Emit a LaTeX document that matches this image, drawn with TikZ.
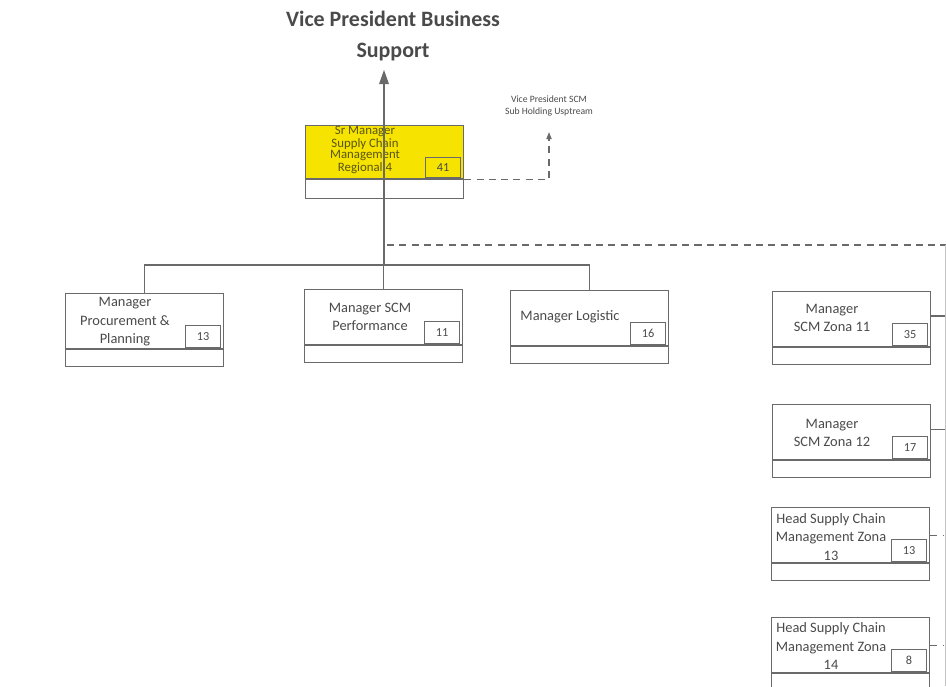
\documentclass[tikz,border=0pt]{standalone}
\usepackage{fontspec}
\setmainfont{Carlito}
\usetikzlibrary{positioning,arrows.meta}
\definecolor{orgline}{HTML}{6A6A6A}
\definecolor{orgtext}{HTML}{4A4A4A}
\definecolor{orgyellow}{HTML}{F6E300}
\definecolor{orgolive}{HTML}{5A5612}

\begin{document}
\begin{tikzpicture}[x=0.02cm,y=-0.02cm,
  posbox/.style  ={draw=orgline, line width=0.7pt, minimum width=3.16cm, minimum height=1.1cm, inner sep=0pt, anchor=north west},
  stripbox/.style={draw=orgline, line width=0.7pt, minimum width=3.16cm, minimum height=0.34cm, inner sep=0pt, anchor=north},
  numbox/.style  ={draw=orgline, line width=0.7pt, minimum width=0.7cm, minimum height=0.44cm, inner sep=0pt, anchor=south east, font=\fontsize{7}{8}\selectfont, text=orgtext},
  postext/.style ={align=center, font=\fontsize{8.2}{10.5}\selectfont, text=orgtext, inner sep=0pt},
  link/.style    ={draw=orgline, line width=0.7pt},
  dashlink/.style={link, dash pattern=on 4pt off 3pt},
]
\useasboundingbox (0,0) rectangle (946,686);

% head of the chart
\node[font=\fontsize{12.5}{18}\selectfont\bfseries, text=orgtext, align=center] (vpbs) at (393,36) {Vice President Business\\Support};
\node[font=\fontsize{5.5}{6.5}\selectfont, text=orgtext, align=center] (vpscm) at (549,106) {Vice President SCM\\Sub Holding Usptream};

\node[posbox, fill=orgyellow, minimum height=1.06cm] (srm) at (305,125) {};
\node[stripbox, minimum height=0.38cm] (srm-s) at (srm.south) {};
\node[numbox, minimum height=0.4cm] (srm-n) at ([shift={(-3,-1)}]srm.south east) {41};
\node[postext, text=orgolive, font=\fontsize{7.3}{6.3}\selectfont] (srm-t) at (365,150) {Sr Manager\\Supply Chain\\Management\\Regional 4};

% positions below
\foreach \n/\x/\y/\tx/\ty/\txt/\num in {%
  proc/65/293/125/322/{Manager\\Procurement \&\\Planning}/13,
  perf/304/289/370/317/{Manager SCM\\Performance}/11,
  logi/510/290/570/317/{Manager Logistic}/16,
  zona11/772/291/832/318/{Manager\\SCM Zona 11}/35,
  zona12/772/404/832/433/{Manager\\SCM Zona 12}/17,
  zona13/771/507/831/537/{Head Supply Chain\\Management Zona\\13}/13,
  zona14/771/617/831/646/{Head Supply Chain\\Management Zona\\14}/8%
} {
  \node[posbox] (\n) at (\x,\y) {};
  \node[stripbox] (\n-s) at (\n.south) {};
  \node[numbox] (\n-n) at ([shift={(-3,-1)}]\n.south east) {\num};
  \node[postext] (\n-t) at (\tx,\ty) {\txt};
}

% connectors
\coordinate (hub) at (384,265);
\draw[link, -{Triangle[length=8pt,width=5.5pt]}, shorten >=0.05cm] (hub) -- (hub |- vpbs.south);
\draw[link] (proc.north) -- ++(0,-28) -| (logi.north);
\draw[link] (perf.north) -- (perf.north |- hub);
\draw[dashlink, -{Triangle[length=4pt,width=3pt]}, shorten >=0.2cm] (srm.south east) -| (vpscm.south);

\coordinate (dl) at (387,245);
\coordinate (dr) at (946,245);
\draw[dashlink] (dl) -- (dr);
\coordinate (rb) at (945,686);
\draw[orgline!40, line width=0.5pt] (dr |- dl) ++(-1,0) -- (rb);

\draw[link] ([yshift=0.06cm]zona11.east) -- ++(14,0);
\draw[link] ([yshift=0.06cm]zona12.east) -- ++(14,0);
\draw[dashlink] (zona13.east) -- ++(14,0);
\draw[dashlink] (zona14.east) -- ++(14,0);
\end{tikzpicture}
\end{document}
